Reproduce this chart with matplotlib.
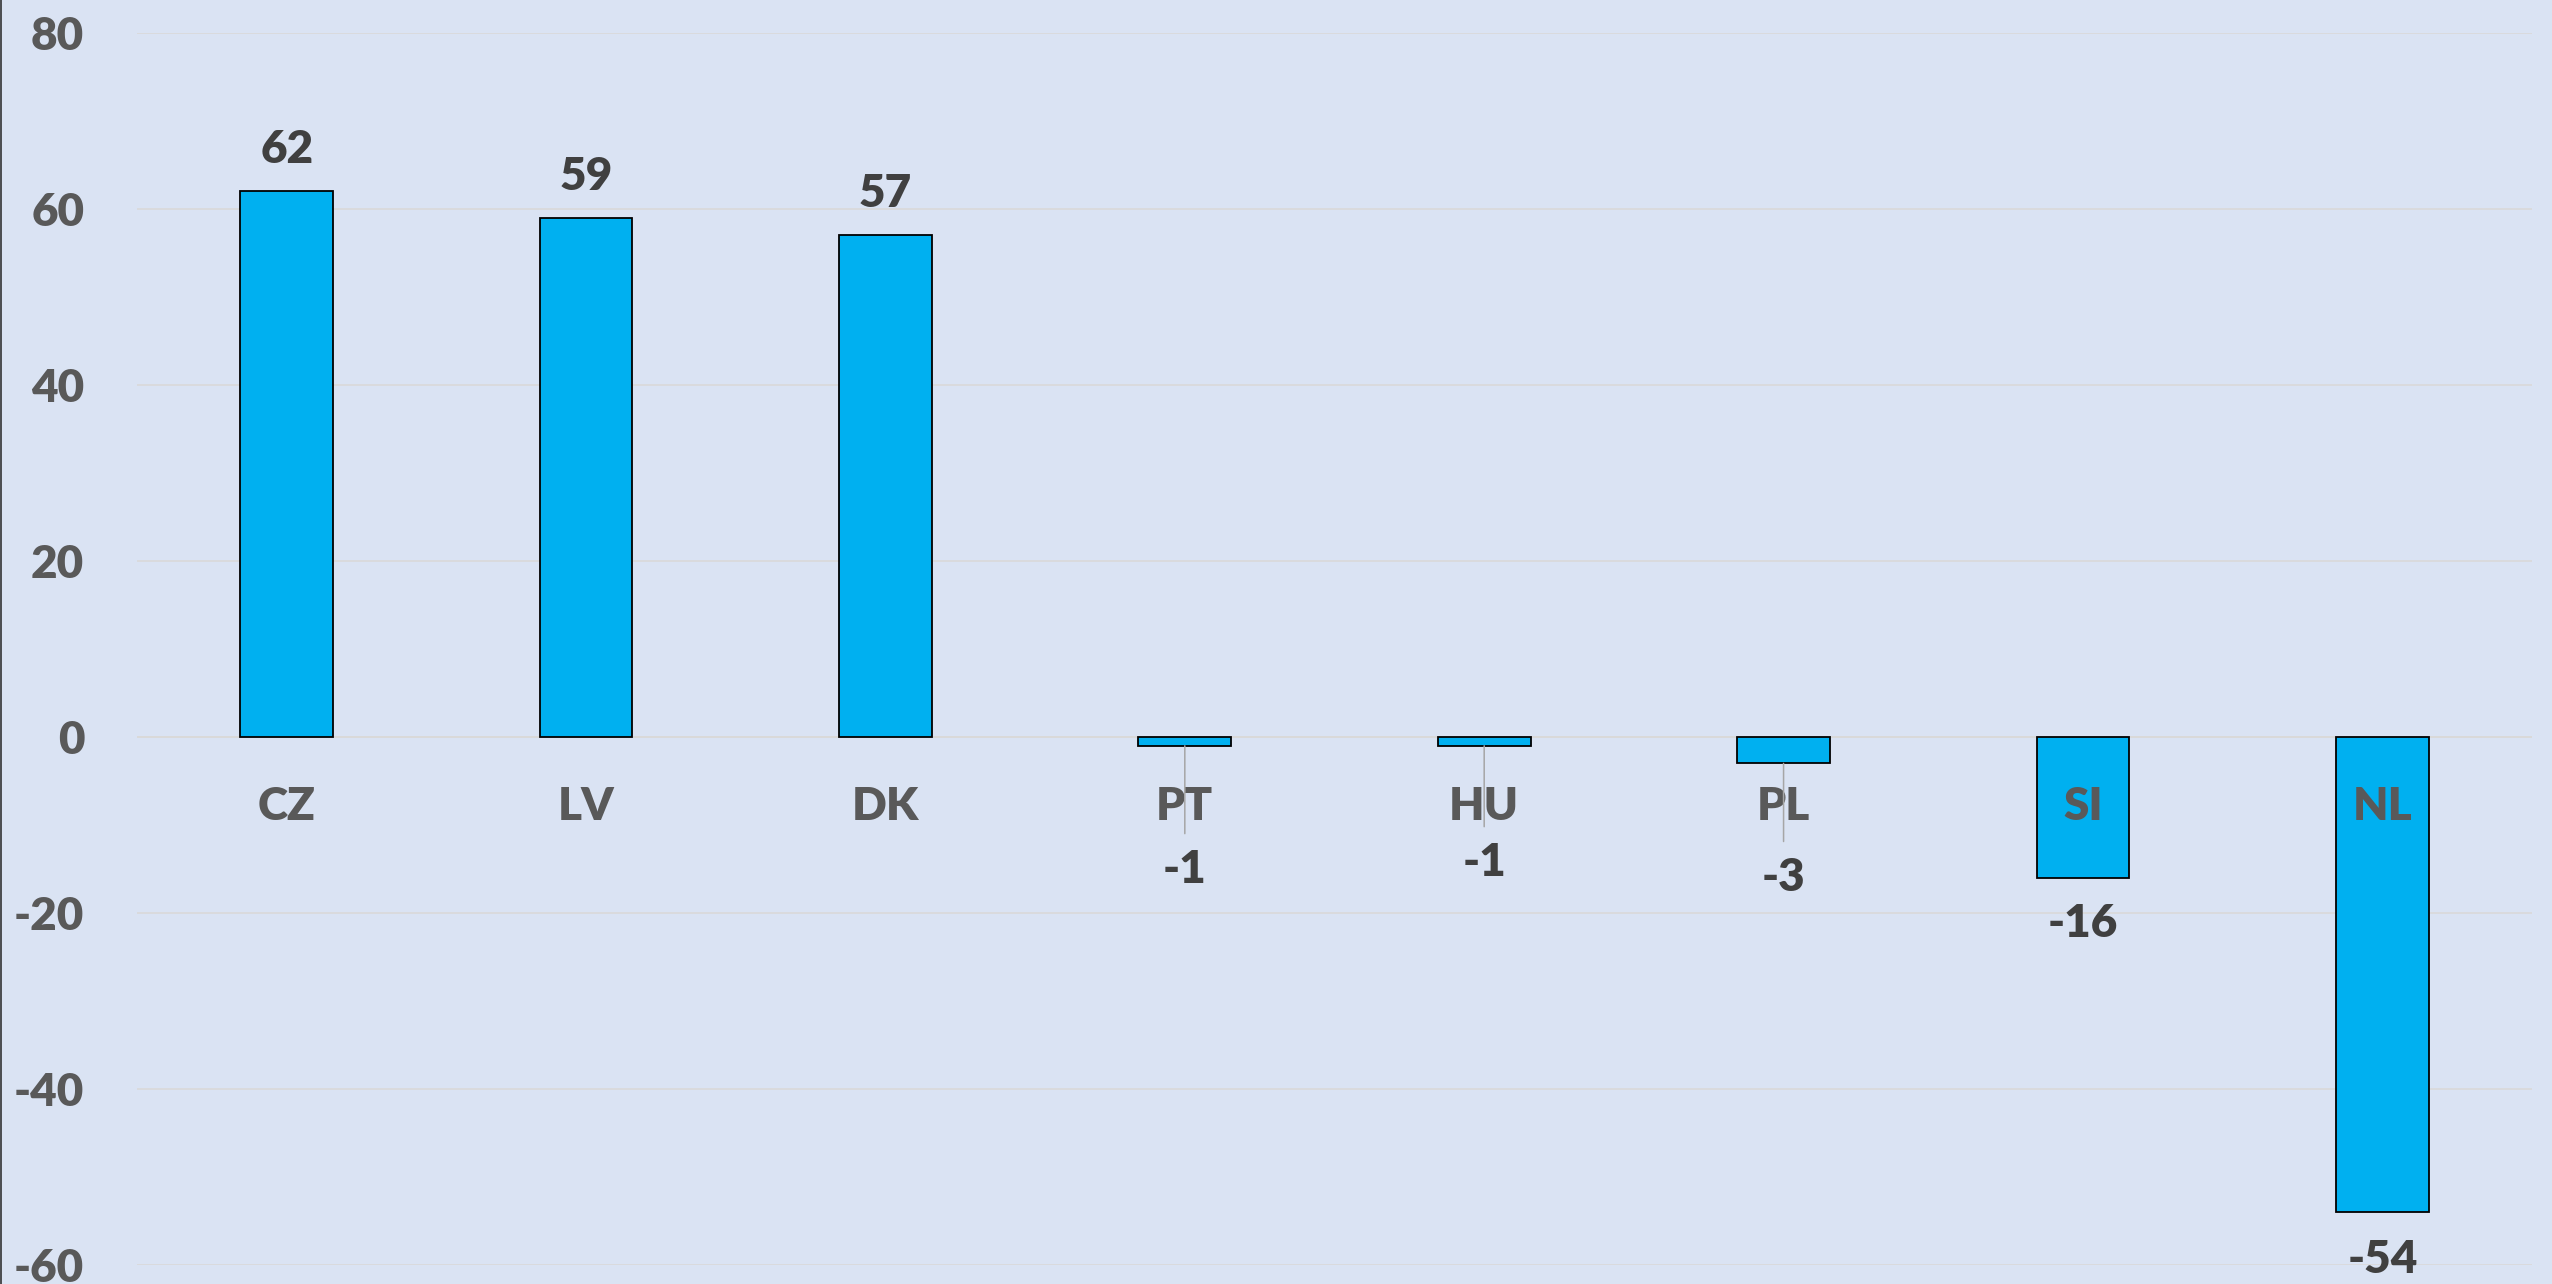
import matplotlib
matplotlib.use("Agg")
import matplotlib.pyplot as plt
from matplotlib.lines import Line2D

countries = ["CZ", "LV", "DK", "PT", "HU", "PL", "SI", "NL"]
values = [62, 59, 57, -1, -1, -3, -16, -54]
y_ticks = [-60, -40, -20, 0, 20, 40, 60, 80]

# label offsets (points) below/above bar end; the small ones were moved by hand
label_offsets = [30, 30, 30, -89, -84, -82, -33, -34]
leader = [False, False, False, True, True, True, False, False]

BG = "#dae3f3"
BAR = "#00b0f0"
GRID = "#d9d9d9"
FONT = ["Lato", "DejaVu Sans"]
WEIGHT = "heavy"

plt.rcParams["font.family"] = FONT

fig = plt.figure(figsize=(25.52, 12.84), dpi=100, facecolor=BG)
ax = fig.add_axes([137 / 2552, 19 / 1284, (2532 - 137) / 2552, (1265 - 33) / 1284])
ax.set_facecolor(BG)

x = list(range(len(countries)))
ax.bar(x, values, width=0.31, color=BAR, edgecolor="black", linewidth=1.3, zorder=3)

ax.set_xlim(-0.5, len(countries) - 0.5)
ax.set_ylim(-60, 80)
ax.set_yticks(y_ticks)
ax.set_yticklabels([str(t) for t in y_ticks], fontsize=33, fontweight=WEIGHT, color="#595959")
ax.tick_params(axis="y", length=0, pad=38)
ax.set_xticks([])
ax.grid(axis="y", color=GRID, linewidth=1.2, zorder=0)
ax.axhline(0, color=GRID, linewidth=1.4, zorder=1)
for s in ax.spines.values():
    s.set_visible(False)

# category names just under the zero line
for i, c in enumerate(countries):
    ax.annotate(c, xy=(i, 0), xytext=(0, -50), textcoords="offset points",
                ha="center", va="center", fontsize=33, fontweight=WEIGHT,
                color="#595959", zorder=5)

# value labels
for i, v in enumerate(values):
    props = None
    if leader[i]:
        props = dict(arrowstyle="-", color="#a6a6a6", lw=1.1, shrinkA=9, shrinkB=0)
    ax.annotate(str(v), xy=(i, v), xytext=(0, label_offsets[i]), textcoords="offset points",
                ha="center", va="center", fontsize=33, fontweight=WEIGHT,
                color="#404040", arrowprops=props, zorder=6)

fig.add_artist(Line2D([0.0004, 0.0004], [0, 1], transform=fig.transFigure, color="#333333", lw=1.2))

fig.savefig("out.png", dpi=100, facecolor=BG)
